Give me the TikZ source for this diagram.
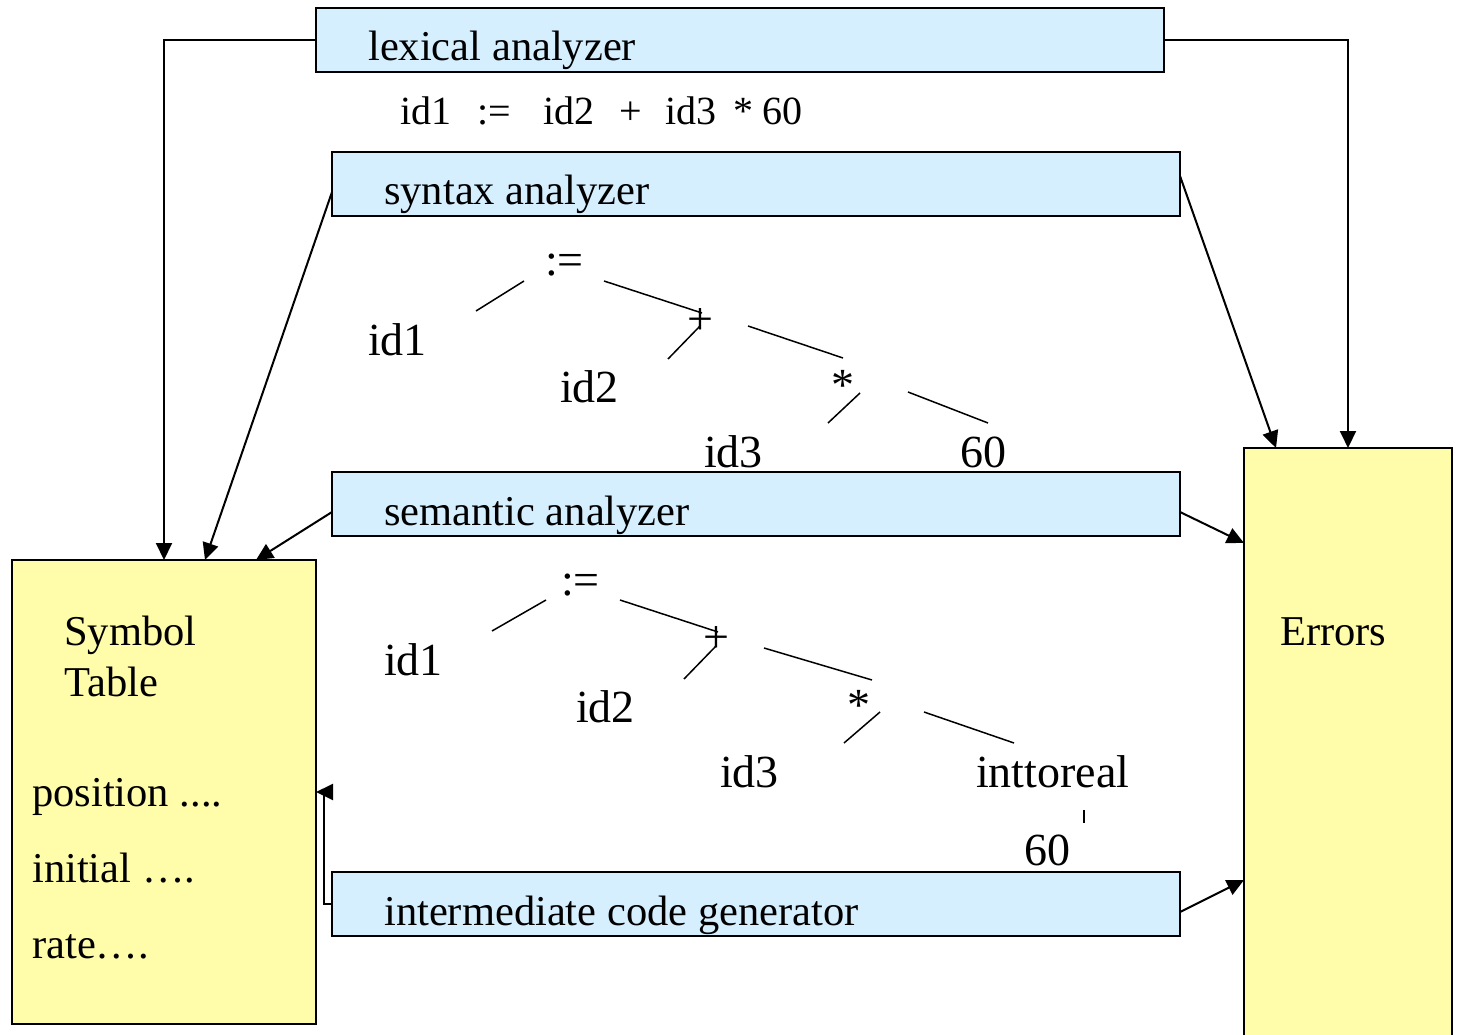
\documentclass[tikz,border=0pt]{standalone}
\usepackage{fontspec}
\setmainfont{Liberation Serif}
\usetikzlibrary{arrows.meta,calc}
\definecolor{boxblue}{RGB}{213,239,255}
\definecolor{boxyellow}{RGB}{255,252,170}
\begin{document}
\begin{tikzpicture}[x=1pt,y=-1pt,
  bluebox/.style={draw, line width=2pt, fill=boxblue, anchor=north west, inner sep=0pt, outer sep=0pt},
  ybox/.style={draw, line width=2pt, fill=boxyellow, anchor=north west, inner sep=0pt, outer sep=0pt},
  txt/.style={anchor=base west, inner sep=0pt, font=\fontsize{42.5}{50}\selectfont},
  etxt/.style={anchor=base west, inner sep=0pt, font=\fontsize{40}{48}\selectfont},
  ttxt/.style={anchor=base west, inner sep=0pt, font=\fontsize{46}{54}\selectfont},
  opt/.style={anchor=base, inner sep=0pt, font=\fontsize{46}{54}\selectfont},
  tline/.style={line width=1.5pt},
  conn/.style={line width=2pt, -{Triangle[length=17pt,width=16pt]}}]
\useasboundingbox (0,0) rectangle (1459,1035);
\fill[white] (0,0) rectangle (1459,1035);

% boxes
\node[bluebox, minimum width=848pt, minimum height=64pt] (lex) at (316,8) {};
\node[bluebox, minimum width=848pt, minimum height=64pt] (syn) at (332,152) {};
\node[bluebox, minimum width=848pt, minimum height=64pt] (sem) at (332,472) {};
\node[bluebox, minimum width=848pt, minimum height=64pt] (icg) at (332,872) {};
\node[ybox, minimum width=304pt, minimum height=464pt] (sym) at (12,560) {};
\node[ybox, minimum width=208pt, minimum height=600pt] (err) at (1244,448) {};

% box texts
\node[txt] (lext) at (368,61) {lexical analyzer};
\node[txt] (synt) at (384,205) {syntax analyzer};
\node[txt] (semt) at (384,525) {semantic analyzer};
\node[txt] (icgt) at (384,925) {intermediate code generator};
\node[txt] (symt1) at (64,645) {Symbol};
\node[txt] (symt2) at (64,696) {Table};
\node[txt] (pos) at (32,806) {position ....};
\node[txt] (ini) at (32,882) {initial ….};
\node[txt] (rat) at (32,958) {rate….};
\node[txt] (errt) at (1280,645) {Errors};

% expression
\node[etxt] (e1) at (400,125) {id1};
\node[etxt] (e2) at (477,125) {:=};
\node[etxt] (e3) at (543,125) {id2};
\node[etxt] (e4) at (619,125) {+};
\node[etxt] (e5) at (665,125) {id3};
\node[etxt] (e6) at (733,125) {*};
\node[etxt] (e7) at (762,125) {60};

% tree 1
\node[ttxt] (a0) at (545,275) {:=};
\node[ttxt] (a1) at (368,355) {id1};
\node[opt]  (a2) at (700,334) {+};
\node[ttxt] (a3) at (560,402) {id2};
\node[opt]  (a4) at (843,400) {*};
\node[ttxt] (a5) at (704,467) {id3};
\node[ttxt] (a6) at (960,467) {60};
\draw[tline] (476,311) -- (524,281);
\draw[tline] (604,281) -- (702,313);
\draw[tline] (668,359) -- (700,326);
\draw[tline] (748,326) -- (843,358);
\draw[tline] (828,423) -- (860,393);
\draw[tline] (908,392) -- (988,423);

% tree 2
\node[ttxt] (b0) at (561,595) {:=};
\node[ttxt] (b1) at (384,675) {id1};
\node[opt]  (b2) at (716,652) {+};
\node[ttxt] (b3) at (576,722) {id2};
\node[opt]  (b4) at (859,720) {*};
\node[ttxt] (b5) at (720,787) {id3};
\node[ttxt] (b6) at (976,787) {inttoreal};
\node[ttxt] (b7) at (1024,865) {60};
\draw[tline] (492,631) -- (546,600);
\draw[tline] (620,600) -- (718,632);
\draw[tline] (684,679) -- (716,646);
\draw[tline] (764,648) -- (872,680);
\draw[tline] (844,743) -- (880,712);
\draw[tline] (924,712) -- (1014,743);
\draw[tline] (1084,810) -- (1084,823);

% connectors
\draw[conn] (lex.west) -| ($(sym.north west)+(152,0)$);
\draw[conn] (lex.east) -| ($(err.north west)+(104,0)$);
\draw[conn] ($(syn.west)+(0,8)$) -- ($(sym.north west)+(193,0)$);
\draw[conn] ($(syn.east)+(0,-8)$) -- ($(err.north west)+(32,0)$);
\draw[conn] ($(sem.west)+(0,8)$) -- ($(sym.north west)+(244,0)$);
\draw[conn] ($(sem.east)+(0,8)$) -- ($(err.north west)+(0,95)$);
\draw[conn] (icg.west) -- ++(-8,0) |- ($(sym.north east)+(0,232)$);
\draw[conn] ($(icg.east)+(0,8)$) -- ($(err.north west)+(0,432)$);
\end{tikzpicture}
\end{document}
